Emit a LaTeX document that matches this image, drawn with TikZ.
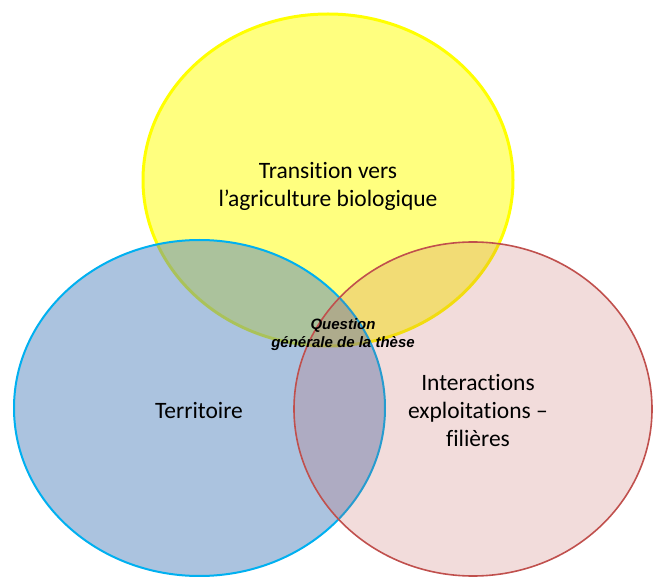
\documentclass[tikz,border=0pt]{standalone}
\usepackage{fontspec}
\setmainfont{Carlito}[Ligatures={TeX,NoCommon}]
\newfontfamily\arialfont{Liberation Sans}

\definecolor{setyellow}{RGB}{255,255,0}
\definecolor{setblue}{RGB}{79,129,189}
\definecolor{setcyan}{RGB}{0,176,240}
\definecolor{setred}{RGB}{192,80,77}

\tikzset{
  yellowset/.style={draw=setyellow, line width=3pt, fill=setyellow, fill opacity=0.5},
  blueset/.style={draw=setcyan, line width=2pt, fill=setblue, fill opacity=0.48},
  redset/.style={draw=setred, line width=1.6pt, fill=setred, fill opacity=0.2},
  bigtext/.style={font=\fontsize{23.5}{28}\selectfont, align=center, text=black},
  qtext/.style={font=\arialfont\bfseries\itshape\fontsize{15}{18}\selectfont, align=center, text=black}
}

\begin{document}
\begin{tikzpicture}[x=1pt,y=-1pt]
	\useasboundingbox (0,0) rectangle (654,577);
	
	% the three sets
	\draw [yellowset] (328,180) ellipse [x radius=185, y radius=166];
	\draw [blueset] (199.5,408) ellipse [x radius=185.5, y radius=168];
	\draw [redset] (473,409) ellipse [x radius=179, y radius=167];
	
	% labels
	\node [bigtext] (transition) at (328,186) {Transition vers\\l'agriculture biologique};
	\node [bigtext] (territoire) at (199,411) {Territoire};
	\node [bigtext] (interactions) at (478,411) {Interactions\\exploitations –\\filières};
	\node [qtext] (question) at (343,335) {Question\\générale de la thèse};
	
\end{tikzpicture}
\end{document}
